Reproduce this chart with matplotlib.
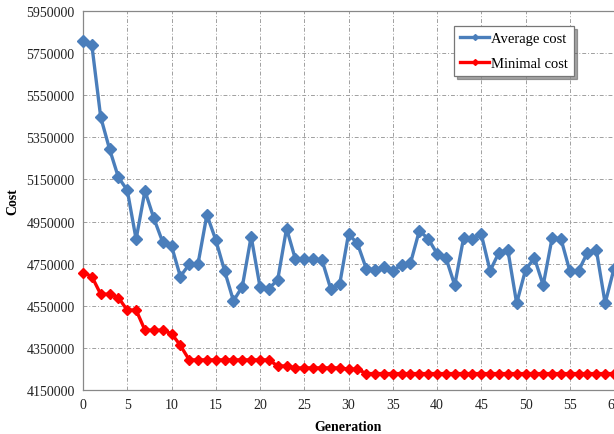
import matplotlib
matplotlib.use("Agg")
import matplotlib.pyplot as plt
from matplotlib.lines import Line2D

generations = list(range(61))
average_cost = [5806000, 5788000, 5446000, 5294000, 5160000, 5099000, 4866000, 5096000, 4966000, 4853000,
                4834000, 4689000, 4747000, 4750000, 4982000, 4863000, 4716000, 4573000, 4641000, 4879000,
                4640000, 4632000, 4673000, 4917000, 4771000, 4770000, 4771000, 4768000, 4629000, 4652000,
                4890000, 4847000, 4727000, 4720000, 4732000, 4714000, 4746000, 4752000, 4906000, 4869000,
                4798000, 4779000, 4648000, 4871000, 4869000, 4890000, 4716000, 4803000, 4816000, 4562000,
                4720000, 4778000, 4648000, 4871000, 4869000, 4716000, 4716000, 4803000, 4816000, 4562000,
                4727000]
minimal_cost = [4708000, 4689000, 4605000, 4605000, 4589000, 4529000, 4530000, 4434000, 4434000, 4434000,
                4418000, 4362000, 4293000, 4293000, 4293000, 4293000, 4293000, 4293000, 4293000, 4293000,
                4293000, 4293000, 4264000, 4264000, 4254000, 4255000, 4255000, 4255000, 4255000, 4255000,
                4249000, 4249000, 4228000, 4228000, 4228000, 4228000, 4228000, 4228000, 4228000, 4228000,
                4228000, 4228000, 4228000, 4228000, 4228000, 4228000, 4228000, 4228000, 4228000, 4228000,
                4228000, 4228000, 4228000, 4228000, 4228000, 4228000, 4228000, 4228000, 4228000, 4228000,
                4228000]
x_ticks = list(range(0, 61, 5))
y_ticks = list(range(4150000, 5950001, 200000))

plt.rcParams['font.family'] = ['Liberation Serif', 'DejaVu Serif']

fig = plt.figure(figsize=(6.14, 4.35), dpi=100)
ax = fig.add_axes([83/614, 44/435, 531/614, 379/435])

blue = '#4A7EBB'
red = '#FF0000'
ax.plot(generations, average_cost, color=blue, lw=2.4, marker='D', ms=6.5,
        mec=blue, mfc=blue, clip_on=False, zorder=3)
ax.plot(generations, minimal_cost, color=red, lw=2.4, marker='D', ms=5.5,
        mec=red, mfc=red, clip_on=False, zorder=3)

ax.set_xlim(0, 60)
ax.set_ylim(4150000, 5950000)
ax.set_xticks(x_ticks)
ax.set_yticks(y_ticks)
ax.set_yticklabels([str(v) for v in y_ticks])
ax.tick_params(length=0, labelsize=10, pad=6, colors='#222222')
ax.grid(True, color='#A0A0A0', linestyle=(0, (4, 2, 1, 2)), linewidth=0.7)
ax.set_axisbelow(True)
for s in ['left', 'bottom', 'top']:
    ax.spines[s].set_color('#888888')
    ax.spines[s].set_linewidth(0.9)
ax.spines['right'].set_visible(False)

ax.set_xlabel('Generation', fontsize=10, fontweight='bold', labelpad=6)
ax.set_ylabel('Cost', fontsize=10, fontweight='bold', labelpad=5)

handles = [Line2D([0], [0], color=blue, lw=2.4, marker='D', ms=3),
           Line2D([0], [0], color=red, lw=2.4, marker='D', ms=3)]
leg = ax.legend(handles, ['Average cost', 'Minimal cost'], loc='upper right',
                bbox_to_anchor=((574 - 83) / 531, 1 - 15/379), bbox_transform=ax.transAxes,
                fontsize=10.5, frameon=True, fancybox=False, shadow=True, handlelength=2.0,
                handletextpad=0.15, borderpad=0.4, labelspacing=0.8, borderaxespad=0)
leg.get_frame().set_edgecolor('#777777')
leg.get_frame().set_linewidth(0.9)

fig.savefig('out.png', dpi=100)
